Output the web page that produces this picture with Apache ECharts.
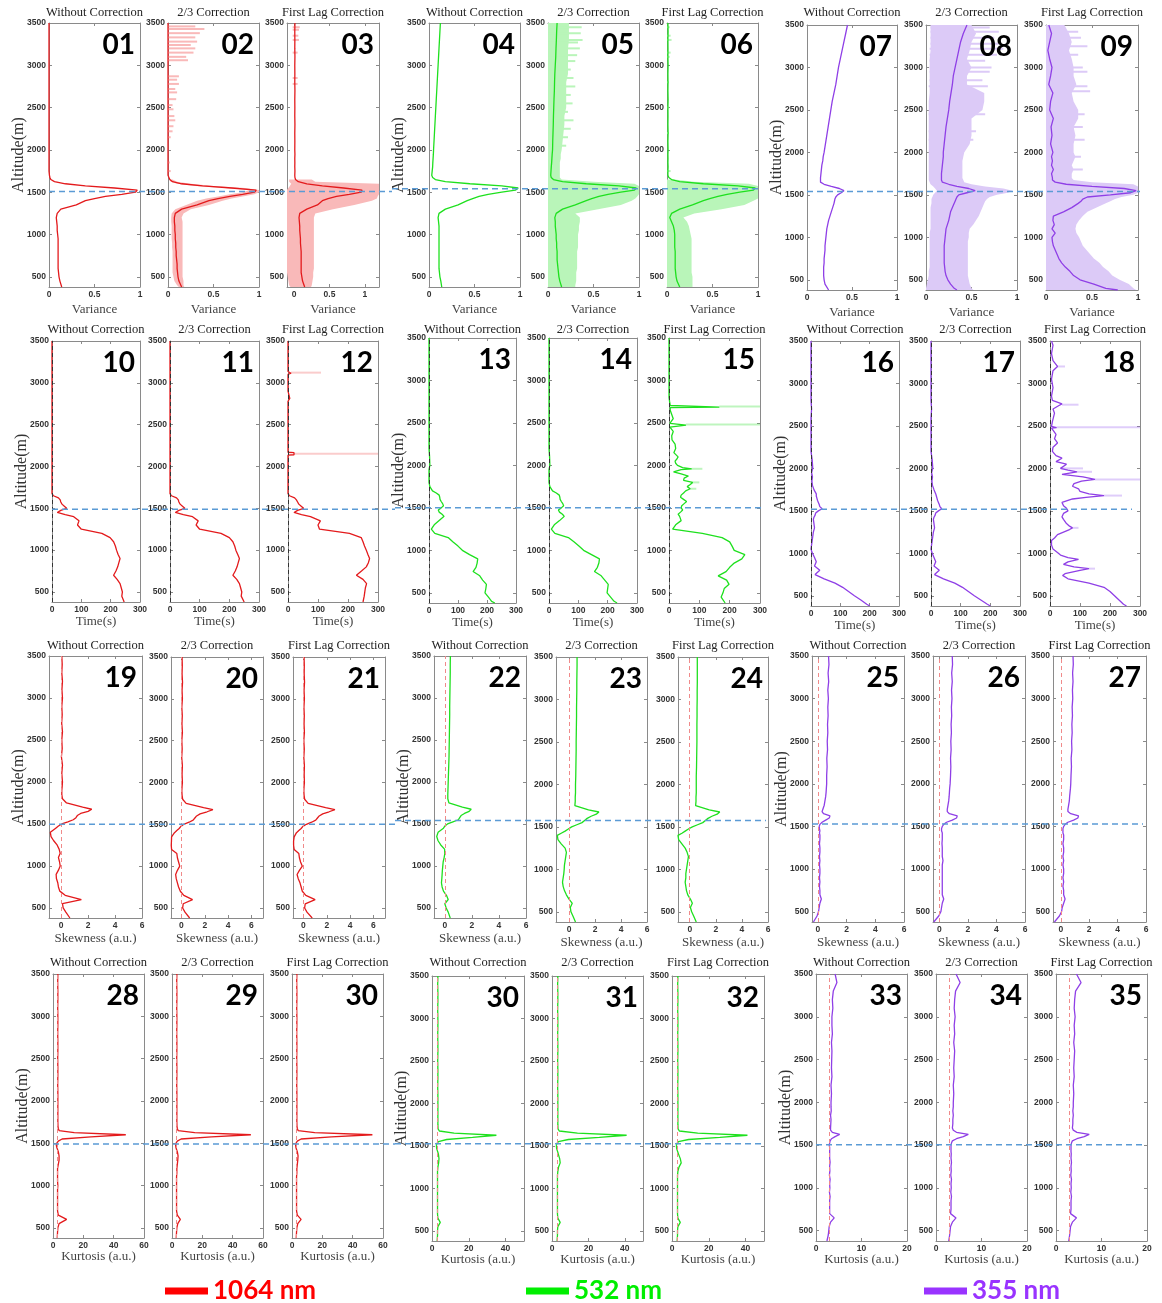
<!DOCTYPE html>
<html><head><meta charset="utf-8">
<script src="https://cdn.jsdelivr.net/npm/echarts@6/dist/echarts.min.js"></script>
<style>html,body{margin:0;padding:0;background:#fff}#main{width:1162px;height:1303px}</style>
</head><body><div id="main"></div>
<script>
// Shared altitude grid (m) for the vertical profiles
const ALT = [
  380,400,450,500,550,600,650,700,750,800,
  850,900,950,1000,1050,1100,1150,1200,1250,1300,
  1350,1400,1425,1450,1475,1500,1525,1550,1575,1600,
  1625,1650,1675,1700,1750,1800,1850,1900,1950,2000,
  2100,2200,2300,2400,2500,2600,2700,2800,2900,3000,3100,3200,3300,3400,3500];
const Y_TICKS = [500,1000,1500,2000,2500,3000,3500];
const N = null;

// ---------- normalised variance ----------
const var1064Raw = [
  .14,.13,.12,.11,.105,.10,.10,.10,.10,.10,
  .10,.10,.10,.095,.09,.09,.085,.08,.09,.13,
  .30,.40,.50,.62,.80,.95,.97,.72,.40,.18,
  .06,.02,.01,.005,0,0,0,0,0,0,
  0,0,0,0,0,0,0,0,0,0,0,0,0,0,0];
const var1064Two3 = [
  .15,.14,.12,.11,.105,.10,.10,.095,.09,.09,
  .085,.085,.08,.08,.075,.075,.07,.07,.08,.15,
  .32,.45,.55,.68,.82,.95,.97,.70,.38,.15,
  .05,.02,.01,0,0,0,0,0,0,0,
  0,0,0,0,0,0,0,0,0,0,0,0,0,0,0];
const band1064Two3Lo = [
  .12,.10,.07,.06,.05,.05,.05,.05,.05,.05,
  .045,.045,.04,.04,.04,.04,.035,.035,.04,.08,
  .20,.32,.42,.55,.68,.82,.90,.62,.30,.10,
  .03,.01,N,N,N,N,N,N,N,N,
  N,N,N,N,N,N,N,N,N,N,N,N,N,N,N];
const band1064Two3Hi = [
  .18,.17,.17,.16,.16,.16,.16,.16,.16,.16,
  .16,.16,.16,.16,.16,.16,.16,.15,.17,.25,
  .45,.60,.70,.82,.95,1,1,.85,.50,.25,
  .10,.05,N,N,N,N,N,N,N,N,
  N,N,N,N,N,N,N,N,N,N,N,N,N,N,N];
const streak1064Two3 = [[1750,0,.03],[1850,0,.02],[2150,0,.03],[2220,0,.05],[2280,0,.06],[2350,0,.08],[2400,0,.07],[2480,0,.06],[2530,0,.05],[2600,0,.09],[2680,0,.1],[2720,0,.08],[2780,0,.12],[2830,0,.1],[2870,0,.12],[3060,0,.22],[3100,0,.2],[3150,0,.28],[3200,0,.3],[3240,0,.25],[3280,0,.32],[3330,0,.3],[3380,0,.35],[3430,0,.4],[3460,0,.3]];

const var1064Lag = [
  .15,.14,.12,.11,.10,.10,.10,.10,.10,.10,
  .095,.09,.09,.085,.08,.08,.075,.07,.08,.18,
  .33,.40,.48,.60,.78,.95,.96,.70,.40,.18,
  .06,.02,.012,.01,.012,.01,.011,.01,.012,.01,
  .011,.01,.012,.01,.011,.01,.012,.01,.011,.01,.012,.01,.011,.01,.012];
const band1064LagLo = [
  -.05,-.07,-.08,-.09,-.1,-.1,-.1,-.1,-.1,-.1,
  -.1,-.1,-.1,-.1,-.1,-.1,-.1,-.1,-.1,-.1,
  -.1,-.1,-.1,-.1,-.1,-.1,-.1,-.08,-.06,-.04,
  -.07,-.07,N,N,N,N,N,N,N,N,
  N,N,N,N,N,N,N,N,N,N,N,N,N,N,N];
const band1064LagHi = [
  .24,.25,.26,.27,.27,.28,.28,.28,.28,.28,
  .28,.28,.28,.28,.28,.28,.28,.28,.30,.55,
  .85,1.1,1.17,1.18,1.2,1.2,1.2,1.2,1.2,1.2,
  .30,.25,N,N,N,N,N,N,N,N,
  N,N,N,N,N,N,N,N,N,N,N,N,N,N,N];
const streak1064Lag = [[2780,-.02,.05],[2850,-.02,.05],[3150,-.02,.05],[3300,-.02,.07],[3350,-.02,.06],[3420,-.02,.07],[3450,-.02,.08]];

const var532Raw = [
  .14,.14,.13,.12,.115,.11,.11,.11,.11,.11,
  .11,.11,.11,.11,.11,.11,.105,.10,.11,.18,
  .32,.42,.48,.55,.65,.80,.95,.98,.80,.45,
  .18,.07,.04,.03,.035,.04,.042,.045,.048,.05,
  .055,.06,.065,.07,.075,.08,.085,.09,.095,.10,.105,.11,.115,.12,.125];
const var532Two3 = [
  .15,.14,.13,.12,.115,.11,.105,.10,.10,.10,
  .095,.095,.09,.09,.085,.08,.08,.075,.09,.16,
  .30,.42,.48,.56,.66,.80,.95,.97,.78,.42,
  .16,.06,.035,.03,.033,.036,.04,.043,.046,.05,
  .052,.055,.058,.06,.063,.066,.07,.072,.075,.08,.085,.088,.092,.095,.10];
const band532Two3Hi = [
  .30,.30,.31,.31,.31,.32,.32,.32,.32,.32,
  .33,.33,.33,.33,.34,.34,.35,.35,.30,.55,
  .80,.92,.96,.98,1,1,1,1,1,.95,
  .5,.15,.13,.13,.13,.13,.13,.14,.14,.15,
  .16,.17,.18,.18,.2,.2,.2,.2,.22,.22,.22,.22,.23,.23,.23];
const streak532Two3 = [[2050,0,.2],[2150,0,.22],[2250,0,.25],[2350,0,.28],[2450,0,.22],[2550,0,.27],[2650,0,.25],[2750,0,.3],[2850,0,.28],[2950,0,.25],[3050,0,.3],[3120,0,.32],[3200,0,.35],[3270,0,.33],[3300,0,.38],[3380,0,.36],[3450,0,.37]];

const var532Lag = [
  .14,.13,.11,.10,.095,.09,.09,.09,.09,.09,
  .085,.085,.085,.085,.08,.07,.05,.03,.05,.14,
  .28,.40,.47,.56,.66,.80,.95,.97,.78,.40,
  .14,.05,.02,.01,.01,.012,.01,.011,.01,.012,
  .01,.012,.01,.011,.01,.012,.01,.011,.01,.012,.01,.011,.01,.012,.01];
const band532LagHi = [
  .28,.28,.28,.28,.27,.27,.27,.27,.27,.27,
  .27,.27,.27,.26,.25,.24,.22,.18,.30,.60,
  .85,.95,1,1,1,1,1,1,1,.9,
  .3,.08,N,N,N,N,N,N,N,N,
  N,N,N,N,N,N,N,N,N,N,N,N,N,N,N];
const streak532Lag = [[1750,0,.04],[2200,0,.02],[2500,0,.02],[2800,0,.02],[3100,0,.03],[3150,0,.04],[3300,0,.05],[3350,0,.04],[3450,0,.03]];

const var355Raw = [
  .24,.22,.20,.19,.185,.185,.185,.19,.19,.195,
  .20,.20,.205,.21,.215,.22,.23,.24,.255,.27,
  .285,.30,.305,.31,.32,.34,.38,.41,.36,.27,
  .19,.15,.15,.15,.155,.16,.165,.175,.18,.19,
  .205,.22,.235,.25,.265,.28,.30,.32,.335,.35,.37,.39,.41,.43,.45];
const var355Two3 = [
  .34,.31,.27,.24,.22,.21,.205,.20,.20,.20,
  .20,.20,.205,.21,.215,.22,.235,.25,.26,.27,
  .29,.31,.32,.33,.34,.36,.45,.54,.47,.34,
  .25,.18,.17,.17,.17,.175,.18,.185,.19,.19,
  .20,.21,.22,.235,.25,.26,.275,.29,.30,.32,.34,.36,.38,.41,.45];
const band355Two3Lo = [
  0,0,.01,.02,.03,.03,.04,.04,.04,.04,
  .04,.04,.04,.04,.04,.05,.05,.05,.05,.05,
  .05,.06,.06,.06,.07,.08,.10,.12,.10,.08,
  .05,.04,.03,.03,.03,.03,.03,.03,.03,.03,
  .03,.03,.03,.03,.03,.03,.04,.04,.04,.04,.04,.05,.05,.05,.05];
const band355Two3Hi = [
  .52,.50,.48,.47,.46,.46,.46,.46,.46,.46,
  .46,.46,.46,.47,.47,.48,.52,.55,.58,.60,
  .62,.64,.65,.67,.70,.78,.90,.95,.85,.65,
  .50,.42,.41,.40,.40,.40,.40,.40,.41,.42,
  .48,.50,.50,.50,.62,.64,.64,.45,.45,.50,.45,.48,.50,.55,.50];
const streak355Two3 = [[2150,.03,.52],[2250,.03,.55],[2450,.03,.65],[2780,.03,.68],[2850,.04,.62],[2950,.04,.70],[3000,.04,.72],[3080,.04,.65],[3150,.04,.78],[3220,.04,.85],[3280,.05,.80],[3350,.05,.75],[3420,.05,.80],[3470,.05,.70]];

const var355Lag = [
  .78,.65,.52,.37,.30,.26,.21,.17,.14,.12,
  .10,.08,.07,.065,.10,.065,.09,.075,.08,.19,
  .28,.35,.38,.40,.45,.70,.92,.98,.85,.50,
  .22,.10,.07,.07,.06,.08,.06,.07,.06,.075,
  .05,.065,.055,.08,.04,.05,.075,.03,.05,.065,.04,.02,.04,.06,.03];
const band355LagHi = [
  .98,.95,.90,.80,.72,.68,.62,.58,.52,.48,
  .44,.40,.38,.36,.33,.32,.33,.36,.40,.45,
  .55,.65,.70,.75,.82,.95,1,1,1,1,
  .95,.50,.30,.28,.28,.30,.28,.30,.32,.30,
  .30,.32,.30,.35,.35,.30,.28,.33,.30,.30,.28,.25,.28,.25,.20];
const streak355Lag = [[1800,0,.4],[1950,0,.38],[2150,0,.42],[2300,0,.40],[2450,0,.42],[2720,0,.48],[2780,0,.45],[2950,0,.45],[3000,0,.40],[3150,0,.35],[3250,0,.45],[3350,0,.38],[3420,0,.35]];

// ---------- time (s) ----------
const time1064Raw = [
  246,244,238,240,236,232,222,210,218,224,
  228,232,225,220,216,210,198,170,100,87,
  92,74,45,18,30,50,42,34,30,28,
  22,5,0,0,0,0,0,0,0,0,
  0,0,0,0,0,0,0,0,0,0,0,0,0,0,0];
const time1064Two3 = [
  250,248,240,242,238,234,225,212,220,226,
  230,234,228,222,218,212,200,172,100,88,
  95,76,45,18,30,50,42,34,30,28,
  22,5,0,0,0,0,0,0,0,0,
  0,0,0,0,0,0,0,0,0,0,0,0,0,0,0];
const altTime1064Lag = ALT.slice(0, 40).concat(
  [2100,2135,2140,2165,2170,2200,2300,2400,2500,2600,2700,2780,2785,2815,2820,2900,3000,3100,3110,3115,3130,3135,3200,3300,3400,3500]);
const time1064Lag = [
  250,252,254,256,258,262,250,228,245,261,
  268,272,266,261,255,250,244,205,105,100,
  108,75,45,20,32,52,44,36,32,28,
  22,5,0,0,0,0,0,0,0,0,
  0,0,20,20,0,0,0,0,0,0,0,0,6,6,0,0,0,0,0,10,10,0,0,0,0,0];
const streakTime1064Lag = [[2152,20,300],[3122,10,110]];

const time532Raw = [
  227,216,205,193,196,198,185,175,152,162,
  166,168,140,115,100,82,66,20,8,18,
  35,52,45,35,32,42,50,47,42,38,
  37,35,25,12,3,0,0,0,0,3,
  2,0,0,0,0,0,0,0,0,0,0,0,0,0,0];
const time532Two3 = [
  232,222,210,198,200,202,190,178,155,165,
  170,172,145,118,102,85,66,20,8,18,
  36,52,46,36,32,42,50,47,42,38,
  37,35,25,12,3,0,0,0,0,3,
  2,0,0,0,0,0,0,0,0,0,0,0,0,0,0];
const altTime532Lag = ALT.slice(0, 34).concat(
  [1725,1750,1775,1800,1825,1850,1875,1900,1925,1950,1960,1975,2000,2025,2050,2075,2100,2150,2200,2250,2300,2350,2400,2450,2470,2475,2490,2495,2520,2550,2600,2650,2680,2685,2700,2705,2720,2750,2800,2860,2870,2880,2900,3000,3100,3200,3300,3400,3500]);
const time532Lag = [
  185,182,172,178,182,198,190,162,188,200,
  215,240,250,215,208,200,175,110,12,22,
  40,35,30,38,45,40,42,50,58,48,
  38,40,48,55,
  70,60,70,78,48,50,64,40,15,40,
  75,45,28,22,20,26,30,16,22,20,
  10,9,14,3,3,56,56,3,8,14,
  9,4,4,166,166,4,5,2,0,0,
  5,0,0,0,0,0,0,0,0];
const streakTime532Lag = [[2482,56,300],[2693,166,300],[1960,75,110],[1800,78,100],[1725,70,90]];

const time355Raw = [
  200,190,170,148,128,108,82,45,14,30,
  12,18,12,5,0,2,4,6,8,12,
  10,8,10,14,16,25,38,30,28,25,
  22,20,18,18,10,5,3,5,2,6,
  4,0,0,0,0,0,2,0,0,0,0,0,0,0,0];
const time355Two3 = [
  200,190,168,146,126,106,80,42,12,28,
  10,16,10,4,0,2,4,6,8,12,
  10,8,10,14,16,25,36,30,28,25,
  22,20,18,16,10,5,3,5,2,6,
  4,0,0,0,0,0,2,0,0,0,0,0,0,0,0];
const altTime355Lag = [
  380,400,450,500,550,600,650,700,740,760,
  780,800,820,840,870,900,930,950,980,1000,
  1050,1100,1150,1180,1220,1250,1280,1300,1320,1350,
  1400,1430,1470,1500,1530,1560,1600,1640,1660,1680,
  1700,1730,1760,1790,1820,1850,1870,1900,1930,1960,
  1980,2000,2050,2080,2120,2150,2200,2250,2300,2350,
  2400,2450,2475,2480,2490,2495,2550,2650,2700,2740,
  2760,2800,2850,2950,3050,3150,3200,3270,3350,3450,
  3500];
const time355Lag = [
  255,245,230,215,200,180,130,60,42,50,
  45,100,130,80,45,60,95,60,35,28,
  10,5,5,15,25,45,65,75,65,55,
  45,40,45,60,55,45,40,75,120,180,
  130,100,95,75,80,105,150,110,40,90,
  60,35,55,20,40,20,8,10,25,15,
  20,10,5,22,22,5,8,15,10,30,
  40,8,5,10,5,10,25,10,5,10,
  5];
const streakTime355Lag = [[820,130,150],[1300,75,95],[1680,180,240],[1870,150,300],[1960,90,140],[2000,35,110],[2485,22,300],[2750,40,95],[3200,25,50]];

// ---------- skewness (a.u.) ----------
const skew1064Raw = [
  .65,.55,.35,.15,.1,1.5,.3,-.1,-.2,-.25,
  -.35,-.37,-.2,-.07,-.12,-.2,-.07,-.15,-.3,-.55,
  -.75,-.8,-.6,-.4,-.2,.05,.5,.9,1.1,1.2,
  1.45,2.0,2.27,1.6,.4,.1,.05,.05,.08,.1,
  .05,.1,.02,.08,.05,.1,.04,.08,.05,.1,.06,.1,.05,.08,.05];
const skew1064Two3 = [
  .7,.6,.3,.1,.15,.95,.2,-.1,-.25,-.35,
  -.45,-.5,-.35,-.15,-.25,-.35,-.4,-.85,-.88,-.86,
  -.85,-.6,-.4,-.2,-.05,.2,.65,1.0,1.15,1.3,
  1.6,2.2,2.7,1.9,.4,.1,.05,.03,.05,.08,
  .05,.08,.02,.06,.03,.08,.04,.07,.03,.08,.05,.09,.05,.07,.05];
const skew1064Lag = [
  .75,.6,.3,.1,.15,1.0,.2,-.1,-.2,-.3,
  -.45,-.55,-.35,-.1,-.25,-.35,-.4,-.8,-.85,-.85,
  -.8,-.6,-.4,-.2,-.05,.25,.7,1.05,1.2,1.35,
  1.65,2.2,2.7,1.9,.4,.1,.05,.03,.05,.08,
  .06,.08,.03,.07,.03,.08,.05,.07,.04,.08,.05,.09,.06,.07,.05];
const skew532Raw = [
  .4,.37,.25,.1,0,.25,.12,-.1,-.2,-.25,
  -.22,-.2,-.18,-.15,-.12,-.05,0,-.02,-.3,-.5,
  -.6,-.5,-.3,-.1,0,.2,.6,1.0,1.1,1.2,
  1.45,1.8,1.95,1.3,.3,.22,.22,.23,.24,.25,
  .27,.29,.31,.32,.33,.34,.35,.36,.36,.37,.38,.39,.40,.40,.41];
const skew532Two3 = [
  .5,.45,.3,.15,.1,.25,0,-.2,-.35,-.45,
  -.5,-.45,-.4,-.37,-.35,-.3,-.25,-.2,-.3,-.6,
  -.85,-.9,-.6,-.3,-.05,.2,.6,1.0,1.2,1.4,
  1.7,2.1,2.3,1.5,.45,.48,.48,.5,.5,.5,
  .52,.53,.54,.55,.55,.56,.57,.58,.58,.59,.6,.6,.61,.62,.62];
const skew532Lag = [
  .5,.45,.3,.15,.05,.2,.05,-.15,-.25,-.3,
  -.35,-.3,-.3,-.25,-.2,-.15,-.1,-.2,-.35,-.6,
  -.85,-.9,-.6,-.35,-.1,.2,.6,1.0,1.2,1.4,
  1.7,2.1,2.3,1.5,.45,.48,.48,.5,.5,.5,
  .5,.52,.53,.54,.55,.55,.55,.56,.56,.57,.57,.58,.58,.58,.58];
const skew355Raw = [
  -.3,-.2,-.05,.05,.1,.15,.25,.15,.15,.12,
  .15,.12,.15,.15,.12,.15,.12,.15,.15,.12,
  .15,.15,.12,.15,.12,.1,.15,.3,.55,.8,
  .85,.4,.3,.35,.45,.5,.55,.58,.6,.62,
  .62,.65,.63,.68,.66,.7,.68,.72,.7,.74,.7,.76,.72,.78,.75];
const skew355Two3 = [
  -.4,-.3,-.05,.1,.15,.2,.3,.2,.2,.2,
  .2,.2,.2,.2,.2,.25,.2,.2,.2,.18,
  .2,.2,.2,.15,.15,.2,.3,.5,.9,1.2,
  1.25,.7,.55,.55,.6,.65,.68,.7,.72,.75,
  .78,.8,.78,.82,.8,.84,.82,.86,.84,.88,.85,.9,.86,.92,.9];
const skew355Lag = [
  -.45,-.35,-.1,.05,.1,.2,.3,.2,.2,.15,
  .2,.15,.2,.2,.15,.2,.15,.2,.2,.15,
  .2,.2,.15,.15,.15,.2,.3,.5,.9,1.2,
  1.25,.7,.5,.5,.55,.6,.62,.65,.68,.7,
  .72,.75,.73,.78,.76,.8,.78,.82,.8,.84,.82,.86,.83,.88,.86];

// ---------- kurtosis (a.u.) ----------
const kurt1064Raw = [
  2.8,2.8,3,3.2,4,9,3.5,3,3,3,
  3,3,3,3.2,3,3,3,3,3.5,4,
  4,3.5,3,2.5,2.2,2.5,3.5,6,25,48,
  14,4,3.5,3.3,3.2,3.2,3.2,3.2,3.2,3.2,
  3.2,3.1,3.2,3.2,3.1,3.2,3.2,3.1,3.2,3.2,3.1,3.2,3.2,3.1,3.2];
const kurt1064Two3 = [
  2.8,2.8,3,3.2,3.8,5.5,3.5,3,3,3,
  3,3,3,3,3,3,3.2,3.2,3.5,3.8,
  4,3.5,3,2.6,2.4,2.6,3.5,6,26,52,
  15,4,3.5,3.3,3.2,3.2,3.2,3.2,3.2,3.2,
  3.2,3.1,3.2,3.2,3.1,3.2,3.2,3.1,3.2,3.2,3.1,3.2,3.2,3.1,3.2];
const kurt1064Lag = [
  2.8,2.8,3,3.2,3.8,6,3.5,3,3,3,
  3,3,3,3,3,3,3.2,3.2,3.5,3.8,
  4,3.5,3,2.6,2.4,2.6,3.5,6,26,53,
  15,4,3.5,3.3,3.2,3.2,3.2,3.2,3.2,3.2,
  3.2,3.1,3.2,3.2,3.1,3.2,3.2,3.1,3.2,3.2,3.1,3.2,3.2,3.1,3.2];
const kurt532Raw = [
  2.8,2.8,3,3,3.2,4.5,3.2,3,3,3,
  3,3,3,3,3,3,3,3,3.2,3.6,
  3.8,3.5,3.2,2.8,2.5,2.4,2.6,3.5,8,22,
  35,12,4,3.3,3.2,3.2,3.2,3.2,3.2,3.2,
  3.2,3.1,3.2,3.2,3.1,3.2,3.2,3.1,3.2,3.2,3.1,3.2,3.2,3.1,3.2];
const kurt532Two3 = [
  2.8,2.8,3,3,3.2,4.5,3.2,3,3,3,
  3,3,3,3,3,3,3,3.2,3.6,4.5,
  4.2,3.5,3.2,2.8,2.5,2.4,2.6,3.5,9,26,
  41,14,4,3.3,3.2,3.2,3.2,3.2,3.2,3.2,
  3.2,3.1,3.2,3.2,3.1,3.2,3.2,3.1,3.2,3.2,3.1,3.2,3.2,3.1,3.2];
const kurt532Lag = [
  2.8,2.8,3,3,3.2,4.5,3.2,3,3,3,
  3,3,3,3,3,3,3,3.2,3.8,5,
  4.5,3.6,3.2,2.8,2.5,2.4,2.6,3.5,9,26,
  41,14,4,3.3,3.2,3.2,3.2,3.2,3.2,3.2,
  3.2,3.1,3.2,3.2,3.1,3.2,3.2,3.1,3.2,3.2,3.1,3.2,3.2,3.1,3.2];
const kurt355Raw = [
  2.4,2.5,2.7,2.8,2.9,3.2,4.0,3.0,3.0,3.0,
  3.0,3.1,2.95,3.05,3.0,3.1,2.95,3.05,3.0,3.1,
  3.0,3.0,3.0,3.0,3.0,2.9,3.0,3.1,3.4,4.2,
  5.2,3.6,3.2,3.2,3.25,3.3,3.2,3.35,3.3,3.3,
  3.4,3.3,3.5,3.4,3.45,3.5,3.4,3.6,3.5,3.5,3.7,3.6,3.8,4.6,4.2];
const kurt355Two3 = [
  2.8,2.9,3.0,3.1,3.2,3.6,4.4,3.2,3.3,3.3,
  3.3,3.4,3.25,3.35,3.3,3.4,3.25,3.35,3.3,3.4,
  3.3,3.35,3.3,3.3,3.3,3.3,3.4,3.6,4.5,6.0,
  7.1,4.5,3.8,3.6,3.7,3.7,3.8,3.7,3.8,3.8,
  3.9,3.8,4.0,3.9,4.0,4.1,3.9,4.1,4.0,4.2,4.0,4.1,4.3,5.3,4.4];
const kurt355Lag = [
  2.8,2.9,3.0,3.1,3.2,3.6,4.5,3.2,3.3,3.3,
  3.3,3.4,3.25,3.35,3.3,3.4,3.25,3.35,3.3,3.4,
  3.3,3.35,3.3,3.3,3.3,3.3,3.4,3.6,4.6,6.2,
  7.3,4.6,3.8,3.6,3.7,3.7,3.8,3.7,3.8,3.8,
  3.9,3.8,4.0,3.9,4.0,4.1,3.9,4.1,4.0,4.2,4.0,4.1,4.3,5.5,4.5];

// boundary-layer top marked in each group (m)
const PBL_ALT = [[1510,1540,1540],[1490,1500,1520],[1495,1540,1530],[1490,1525,1505]];

const TITLES = ['Without Correction', '2/3 Correction', 'First Lag Correction'];
const WAVELENGTHS = ['1064 nm', '532 nm', '355 nm'];
const X_NAMES = ['Variance', 'Time(s)', 'Skewness (a.u.)', 'Kurtosis (a.u.)'];
const PANEL_IDS = ['01','02','03','04','05','06','07','08','09','10','11','12','13','14','15','16','17','18',
  '19','20','21','22','23','24','25','26','27','28','29','30','30','31','32','33','34','35'];

const PROFILES = [
  { v: var1064Raw },
  { v: var1064Two3, lo: band1064Two3Lo, hi: band1064Two3Hi, st: streak1064Two3 },
  { v: var1064Lag, lo: band1064LagLo, hi: band1064LagHi, st: streak1064Lag },
  { v: var532Raw },
  { v: var532Two3, hi: band532Two3Hi, st: streak532Two3 },
  { v: var532Lag, hi: band532LagHi, st: streak532Lag },
  { v: var355Raw },
  { v: var355Two3, lo: band355Two3Lo, hi: band355Two3Hi, st: streak355Two3 },
  { v: var355Lag, hi: band355LagHi, st: streak355Lag },
  { v: time1064Raw }, { v: time1064Two3 }, { a: altTime1064Lag, v: time1064Lag, st: streakTime1064Lag },
  { v: time532Raw }, { v: time532Two3 }, { a: altTime532Lag, v: time532Lag, st: streakTime532Lag },
  { v: time355Raw }, { v: time355Two3 }, { a: altTime355Lag, v: time355Lag, st: streakTime355Lag },
  { v: skew1064Raw }, { v: skew1064Two3 }, { v: skew1064Lag },
  { v: skew532Raw }, { v: skew532Two3 }, { v: skew532Lag },
  { v: skew355Raw }, { v: skew355Two3 }, { v: skew355Lag },
  { v: kurt1064Raw }, { v: kurt1064Two3 }, { v: kurt1064Lag },
  { v: kurt532Raw }, { v: kurt532Two3 }, { v: kurt532Lag },
  { v: kurt355Raw }, { v: kurt355Two3 }, { v: kurt355Lag }
];

// ---------- layout & styling ----------
const BOXES = [
  [49,23,91,264],[168,23,91,264],[287,23,92,264],[429,23,91,264],[548,23,91,264],[667,23,91,264],[807,25,90,265],[926,25,91,265],[1046,25,92,265],
  [52,341,88,261],[170,341,89,261],[288,341,90,261],[429,338,87,265],[549,338,88,265],[669,338,91,265],[811,341,88,265],[931,341,89,265],[1050,341,90,265],
  [49,656,93,262],[171,657,92,261],[293,657,92,261],[434,656,92,262],[556,657,91,265],[678,657,90,265],[812,656,92,266],[933,656,92,266],[1053,656,93,266],
  [53,974,91,264],[172,974,91,264],[292,974,91,264],[432,976,92,265],[552,976,91,265],[672,976,92,265],[816,974,91,267],[936,974,91,267],[1056,974,91,267]
];
const X_RANGES = [
  [0,1],[0,1],[-0.1,1.2],[0,1],[0,1],[0,1],[0,1],[0,1],[0,1],
  [0,300],[0,300],[0,300],[0,300],[0,300],[0,300],[0,300],[0,300],[0,300],
  [-0.9,6],[-0.9,7],[-0.9,7],[-0.8,6],[-1,6],[-0.9,6],[-0.4,6],[-0.45,6],[-0.55,6],
  [0,60],[0,60],[0,60],[0,50],[0,50],[0,50],[0,20],[0,20],[0,20]
];
const X_TICKS = [
  [0,0.5,1],[0,0.5,1],[0,0.5,1],[0,0.5,1],[0,0.5,1],[0,0.5,1],[0,0.5,1],[0,0.5,1],[0,0.5,1],
  [0,100,200,300],[0,100,200,300],[0,100,200,300],[0,100,200,300],[0,100,200,300],[0,100,200,300],[0,100,200,300],[0,100,200,300],[0,100,200,300],
  [0,2,4,6],[0,2,4,6],[0,2,4,6],[0,2,4,6],[0,2,4,6],[0,2,4,6],[0,2,4,6],[0,2,4,6],[0,2,4,6],
  [0,20,40,60],[0,20,40,60],[0,20,40,60],[0,20,40],[0,20,40],[0,20,40],[0,10,20],[0,10,20],[0,10,20]
];
const PBL_SPANS = [
  [[49,392],[392,760],[807,1140]],
  [[52,395],[395,762],[811,1132]],
  [[49,395],[395,766],[812,1143]],
  [[53,395],[395,765],[816,1146]]
];
const REF_LINES = [null, { x: 0, color: '#333333' }, { x: 0, color: '#f08a8a' }, { x: 3, color: '#f08a8a' }];
const TITLE_Y = [13, 330, 646, 963];
const NAME_GAP = [16, 13, 14, 12];
const LINE_COLORS = ['#e31a1c', '#1ee01e', '#8f3fe6'];
const BAND_COLORS = ['#f9b9b9', '#b9f5b9', '#dccaf7'];
const FAINT_COLORS = ['rgba(240,110,110,0.35)', 'rgba(70,225,70,0.35)', 'rgba(150,90,240,0.3)'];
const LEGEND_COLORS = ['#ff0000', '#00ee00', '#9933ff'];
const LEGEND_LEFT = [160, 521, 919];
const Y_MIN = 380, Y_MAX = 3500;
const FRAME = '#8a8a8a';

const grids = [], xAxes = [], yAxes = [], series = [], graphics = [];
const plainNumber = v => String(v);
const tickLabel = { fontSize: 8.5, fontWeight: 'bold', color: '#333', fontFamily: 'Liberation Sans', formatter: plainNumber };

function bandSeries(xi, yi, xr, alts, lo, hi, color) {
  return {
    type: 'custom', xAxisIndex: xi, yAxisIndex: yi, silent: true, z: 1, animation: false,
    data: [[xr[0], alts[0]]],
    renderItem: function (params, api) {
      const clamp = v => Math.max(xr[0], Math.min(xr[1], v));
      const children = [];
      let run = [];
      const flush = () => {
        if (run.length > 1) {
          const left = run.map(i => api.coord([clamp(lo ? lo[i] : 0), alts[i]]));
          const right = run.slice().reverse().map(i => api.coord([clamp(hi[i]), alts[i]]));
          children.push({ type: 'polygon', shape: { points: left.concat(right) }, style: { fill: color } });
        }
        run = [];
      };
      for (let i = 0; i < alts.length; i++) {
        if (hi[i] === null || hi[i] === undefined) flush(); else run.push(i);
      }
      flush();
      return { type: 'group', children: children };
    }
  };
}

function streakSeries(xi, yi, xr, items, color) {
  return {
    type: 'custom', xAxisIndex: xi, yAxisIndex: yi, silent: true, z: 1, animation: false,
    data: items.map(s => [s[1], s[0], s[2]]),
    encode: { x: [0, 2], y: 1 },
    renderItem: function (params, api) {
      const clamp = v => Math.max(xr[0], Math.min(xr[1], v));
      const a = api.coord([clamp(api.value(0)), api.value(1)]);
      const b = api.coord([clamp(api.value(2)), api.value(1)]);
      return { type: 'rect', shape: { x: a[0], y: a[1] - 1, width: b[0] - a[0], height: 2 }, style: { fill: color } };
    }
  };
}

PROFILES.forEach((p, i) => {
  const row = Math.floor(i / 9), col = i % 9, grp = Math.floor(col / 3), sub = col % 3;
  const box = BOXES[i], xr = X_RANGES[i];
  const gi = grids.length;
  grids.push({ left: box[0], top: box[1], width: box[2], height: box[3], containLabel: false, outerBoundsMode: 'none' });

  const xi = xAxes.length;
  xAxes.push({
    gridIndex: gi, type: 'value', position: 'bottom', min: xr[0], max: xr[1],
    axisLine: { show: true, onZero: false, lineStyle: { color: FRAME, width: 1 } },
    axisTick: { show: true, inside: true, length: 3, customValues: X_TICKS[i], lineStyle: { color: FRAME } },
    axisLabel: Object.assign({ margin: 3, customValues: X_TICKS[i] }, tickLabel),
    splitLine: { show: false },
    name: X_NAMES[row], nameLocation: 'middle', nameGap: NAME_GAP[row], nameMoveOverlap: false,
    nameTextStyle: { fontFamily: 'Liberation Serif', fontSize: 13, color: '#444' }
  });
  xAxes.push({
    gridIndex: gi, type: 'value', position: 'top', min: xr[0], max: xr[1],
    axisLine: { show: true, onZero: false, lineStyle: { color: FRAME, width: 1 } },
    axisTick: { show: true, inside: true, length: 3, customValues: X_TICKS[i], lineStyle: { color: FRAME } },
    axisLabel: { show: false }, splitLine: { show: false }
  });

  const yi = yAxes.length;
  const yLeft = {
    gridIndex: gi, type: 'value', position: 'left', min: Y_MIN, max: Y_MAX,
    axisLine: { show: true, onZero: false, lineStyle: { color: FRAME, width: 1 } },
    axisTick: { show: true, inside: true, length: 3, customValues: Y_TICKS, lineStyle: { color: FRAME } },
    axisLabel: Object.assign({ margin: 3, customValues: Y_TICKS }, tickLabel),
    splitLine: { show: false }
  };
  if (sub === 0) {
    Object.assign(yLeft, {
      name: 'Altitude(m)', nameLocation: 'middle', nameGap: 22, nameMoveOverlap: false,
      nameTextStyle: { fontFamily: 'Liberation Serif', fontSize: 16, color: '#333' }
    });
  }
  yAxes.push(yLeft);
  yAxes.push({
    gridIndex: gi, type: 'value', position: 'right', min: Y_MIN, max: Y_MAX,
    axisLine: { show: true, onZero: false, lineStyle: { color: FRAME, width: 1 } },
    axisTick: { show: true, inside: true, length: 3, customValues: Y_TICKS, lineStyle: { color: FRAME } },
    axisLabel: { show: false }, splitLine: { show: false }
  });

  const alts = p.a || ALT;
  if (p.hi) series.push(bandSeries(xi, yi, xr, alts, p.lo, p.hi, BAND_COLORS[grp]));
  if (p.st) series.push(streakSeries(xi, yi, xr, p.st, row === 1 ? FAINT_COLORS[grp] : BAND_COLORS[grp]));

  const curve = {
    type: 'line', name: WAVELENGTHS[grp], xAxisIndex: xi, yAxisIndex: yi,
    data: p.v.map((v, k) => [v, alts[k]]),
    showSymbol: false, symbol: 'none', silent: true, animation: false, z: 3,
    lineStyle: { color: LINE_COLORS[grp], width: 1.3 },
    itemStyle: { color: LINE_COLORS[grp] }
  };
  const ref = REF_LINES[row];
  if (ref) {
    curve.markLine = {
      silent: true, symbol: ['none', 'none'], label: { show: false }, animation: false,
      lineStyle: { type: [4, 3], color: ref.color, width: 1 },
      data: [{ xAxis: ref.x }]
    };
  }
  series.push(curve);

  graphics.push({
    type: 'text', x: box[0] + box[2] / 2, y: TITLE_Y[row], z: 50,
    style: { text: TITLES[sub], font: '12.5px "Liberation Serif"', fill: '#222',
      textAlign: 'center', align: 'center', textVerticalAlign: 'middle', verticalAlign: 'middle' }
  });
  graphics.push({
    type: 'text', x: box[0] + box[2] - 5, y: box[1] + 8, z: 50,
    style: { text: PANEL_IDS[i], font: 'bold 28px Lato', fill: '#000',
      textAlign: 'right', align: 'right', textVerticalAlign: 'top', verticalAlign: 'top' }
  });
});

// dashed boundary-layer markers spanning each group of three panels
PBL_ALT.forEach((alts, row) => {
  alts.forEach((alt, grp) => {
    const span = PBL_SPANS[row][grp];
    const ref = BOXES[row * 9 + grp * 3];
    const gi = grids.length;
    grids.push({ left: span[0], top: ref[1], width: span[1] - span[0], height: ref[3], containLabel: false, outerBoundsMode: 'none' });
    const xi = xAxes.length, yi = yAxes.length;
    xAxes.push({ gridIndex: gi, type: 'value', min: 0, max: 1, show: false });
    yAxes.push({ gridIndex: gi, type: 'value', min: Y_MIN, max: Y_MAX, show: false });
    series.push({
      type: 'line', xAxisIndex: xi, yAxisIndex: yi, data: [[0, alt], [1, alt]],
      showSymbol: false, symbol: 'none', silent: true, animation: false, z: 10,
      lineStyle: { color: '#5b9bd5', width: 1.5, type: [6, 4] }
    });
  });
});

const legends = WAVELENGTHS.map((name, k) => ({
  left: LEGEND_LEFT[k], top: 1273, orient: 'horizontal', selectedMode: false,
  icon: 'rect', itemWidth: 43, itemHeight: 7, itemGap: 10,
  data: [{ name: name, icon: 'rect', itemStyle: { color: LEGEND_COLORS[k] } }],
  textStyle: { color: LEGEND_COLORS[k], fontSize: 26, fontWeight: 'bold', fontFamily: 'Lato' }
}));

const chart = echarts.init(document.getElementById('main'), null, { renderer: 'canvas' });
chart.setOption({
  animation: false,
  backgroundColor: '#ffffff',
  textStyle: { fontFamily: 'Liberation Sans' },
  grid: grids, xAxis: xAxes, yAxis: yAxes, series: series,
  legend: legends,
  graphic: { elements: graphics }
});
</script></body></html>
